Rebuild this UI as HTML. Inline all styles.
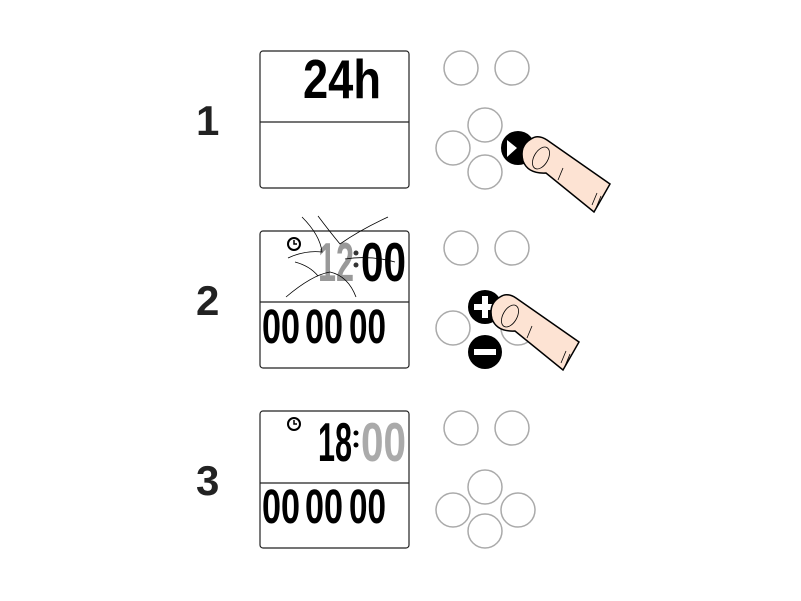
<!DOCTYPE html>
<html><head><meta charset="utf-8"><style>
html,body{margin:0;padding:0;background:#fff;}
svg{display:block}
.lcd{font-family:"Liberation Sans Narrow","Liberation Sans",sans-serif;font-weight:bold;}
.num{font-family:"Liberation Sans",sans-serif;font-weight:bold;font-size:42px;fill:#222;}
</style></head><body>
<svg width="801" height="601" viewBox="0 0 801 601" xmlns="http://www.w3.org/2000/svg">
<defs>
<g id="finger">
<path d="M531,139 Q519,146 523,161 Q528,174 546,173 L594,212 L610,184 L547,140 Q538,134 531,139 Z" fill="#fde3d3" stroke="#000" stroke-width="1.5"/>
<ellipse cx="541" cy="158" rx="7" ry="12" transform="rotate(30 541 158)" fill="none" stroke="#000" stroke-width="0.8"/>
<line x1="563" y1="168" x2="558" y2="180" stroke="#000" stroke-width="0.8"/>
<line x1="597" y1="193" x2="592" y2="205" stroke="#000" stroke-width="0.8"/>
<line x1="601" y1="196" x2="596" y2="208" stroke="#000" stroke-width="0.8"/>
</g>
<g id="low">
<text class="lcd" x="262" y="0" font-size="48" textLength="38" lengthAdjust="spacingAndGlyphs">00</text>
<text class="lcd" x="305" y="0" font-size="48" textLength="38" lengthAdjust="spacingAndGlyphs">00</text>
<text class="lcd" x="349" y="0" font-size="48" textLength="37" lengthAdjust="spacingAndGlyphs">00</text>
</g>
</defs>
<g fill="none" stroke="#aaa" stroke-width="1.5">
<circle cx="461" cy="68" r="17"/><circle cx="512" cy="68" r="17"/>
<circle cx="485" cy="125" r="17"/><circle cx="453" cy="148" r="17"/><circle cx="485" cy="172" r="17"/>
<circle cx="461" cy="248" r="17"/><circle cx="512" cy="248" r="17"/>
<circle cx="453" cy="328" r="17"/><circle cx="518" cy="328" r="17"/>
<circle cx="461" cy="428" r="17"/><circle cx="512" cy="428" r="17"/>
<circle cx="485" cy="487" r="17"/><circle cx="453" cy="510" r="17"/><circle cx="485" cy="531" r="17"/><circle cx="518" cy="510" r="17"/>
</g>
<circle cx="518" cy="148" r="17" fill="#000"/>
<path d="M507,140 L517,148 L507,157 Z" fill="#fff"/>
<use href="#finger"/>
<circle cx="485" cy="352" r="17" fill="#000"/>
<rect x="474" y="349" width="22" height="6" fill="#fff"/>
<circle cx="485" cy="307" r="17" fill="#000"/>
<rect x="474" y="304" width="22" height="6" fill="#fff"/><rect x="482" y="296" width="6" height="22" fill="#fff"/>
<g transform="translate(-31,158)"><use href="#finger"/></g>

<g fill="#fff" stroke="#222" stroke-width="1.2">
<rect x="260" y="51" width="149" height="137" rx="3"/>
<rect x="260" y="231" width="149" height="137" rx="3"/>
<rect x="260" y="411" width="149" height="137" rx="3"/>
</g>
<g stroke="#222" stroke-width="1.2">
<line x1="260" y1="122" x2="409" y2="122"/>
<line x1="260" y1="302" x2="409" y2="302"/>
<line x1="260" y1="483" x2="409" y2="483"/>
</g>
<text class="num" x="196" y="135">1</text>
<text class="num" x="196" y="315">2</text>
<text class="num" x="196" y="495">3</text>

<text class="lcd" x="303" y="98" font-size="55" textLength="78" lengthAdjust="spacingAndGlyphs">24h</text>

<circle cx="294" cy="244" r="6" fill="none" stroke="#000" stroke-width="2"/>
<path d="M294,240 V244 H297" fill="none" stroke="#000" stroke-width="1.5"/>
<text class="lcd" x="318" y="281" font-size="55" textLength="36" lengthAdjust="spacingAndGlyphs" fill="#999">12</text>
<circle cx="356" cy="253" r="2.5" fill="#333"/><circle cx="356" cy="265" r="2.5" fill="#333"/>
<text class="lcd" x="361" y="281" font-size="55" textLength="45" lengthAdjust="spacingAndGlyphs">00</text>
<g stroke="#000" stroke-width="0.8" fill="none">
<path d="M302,217 Q320,235 322,252 Q305,250 288,258"/>
<path d="M318,216 Q330,232 340,244 Q360,230 388,217"/>
<path d="M286,297 Q312,275 330,272 Q348,276 356,297"/>
<path d="M295,262 Q310,266 318,276"/>
<path d="M345,259 Q370,255 395,262"/>
</g>
<g transform="translate(0,343)"><use href="#low"/></g>

<circle cx="294" cy="424" r="6" fill="none" stroke="#000" stroke-width="2"/>
<path d="M294,420 V424 H297" fill="none" stroke="#000" stroke-width="1.5"/>
<text class="lcd" x="318" y="461" font-size="55" textLength="34" lengthAdjust="spacingAndGlyphs">18</text>
<circle cx="356" cy="433" r="2.5" fill="#000"/><circle cx="356" cy="445" r="2.5" fill="#000"/>
<text class="lcd" x="361" y="461" font-size="55" textLength="45" lengthAdjust="spacingAndGlyphs" fill="#aaa">00</text>
<g transform="translate(0,523)"><use href="#low"/></g>
</svg>
</body></html>
